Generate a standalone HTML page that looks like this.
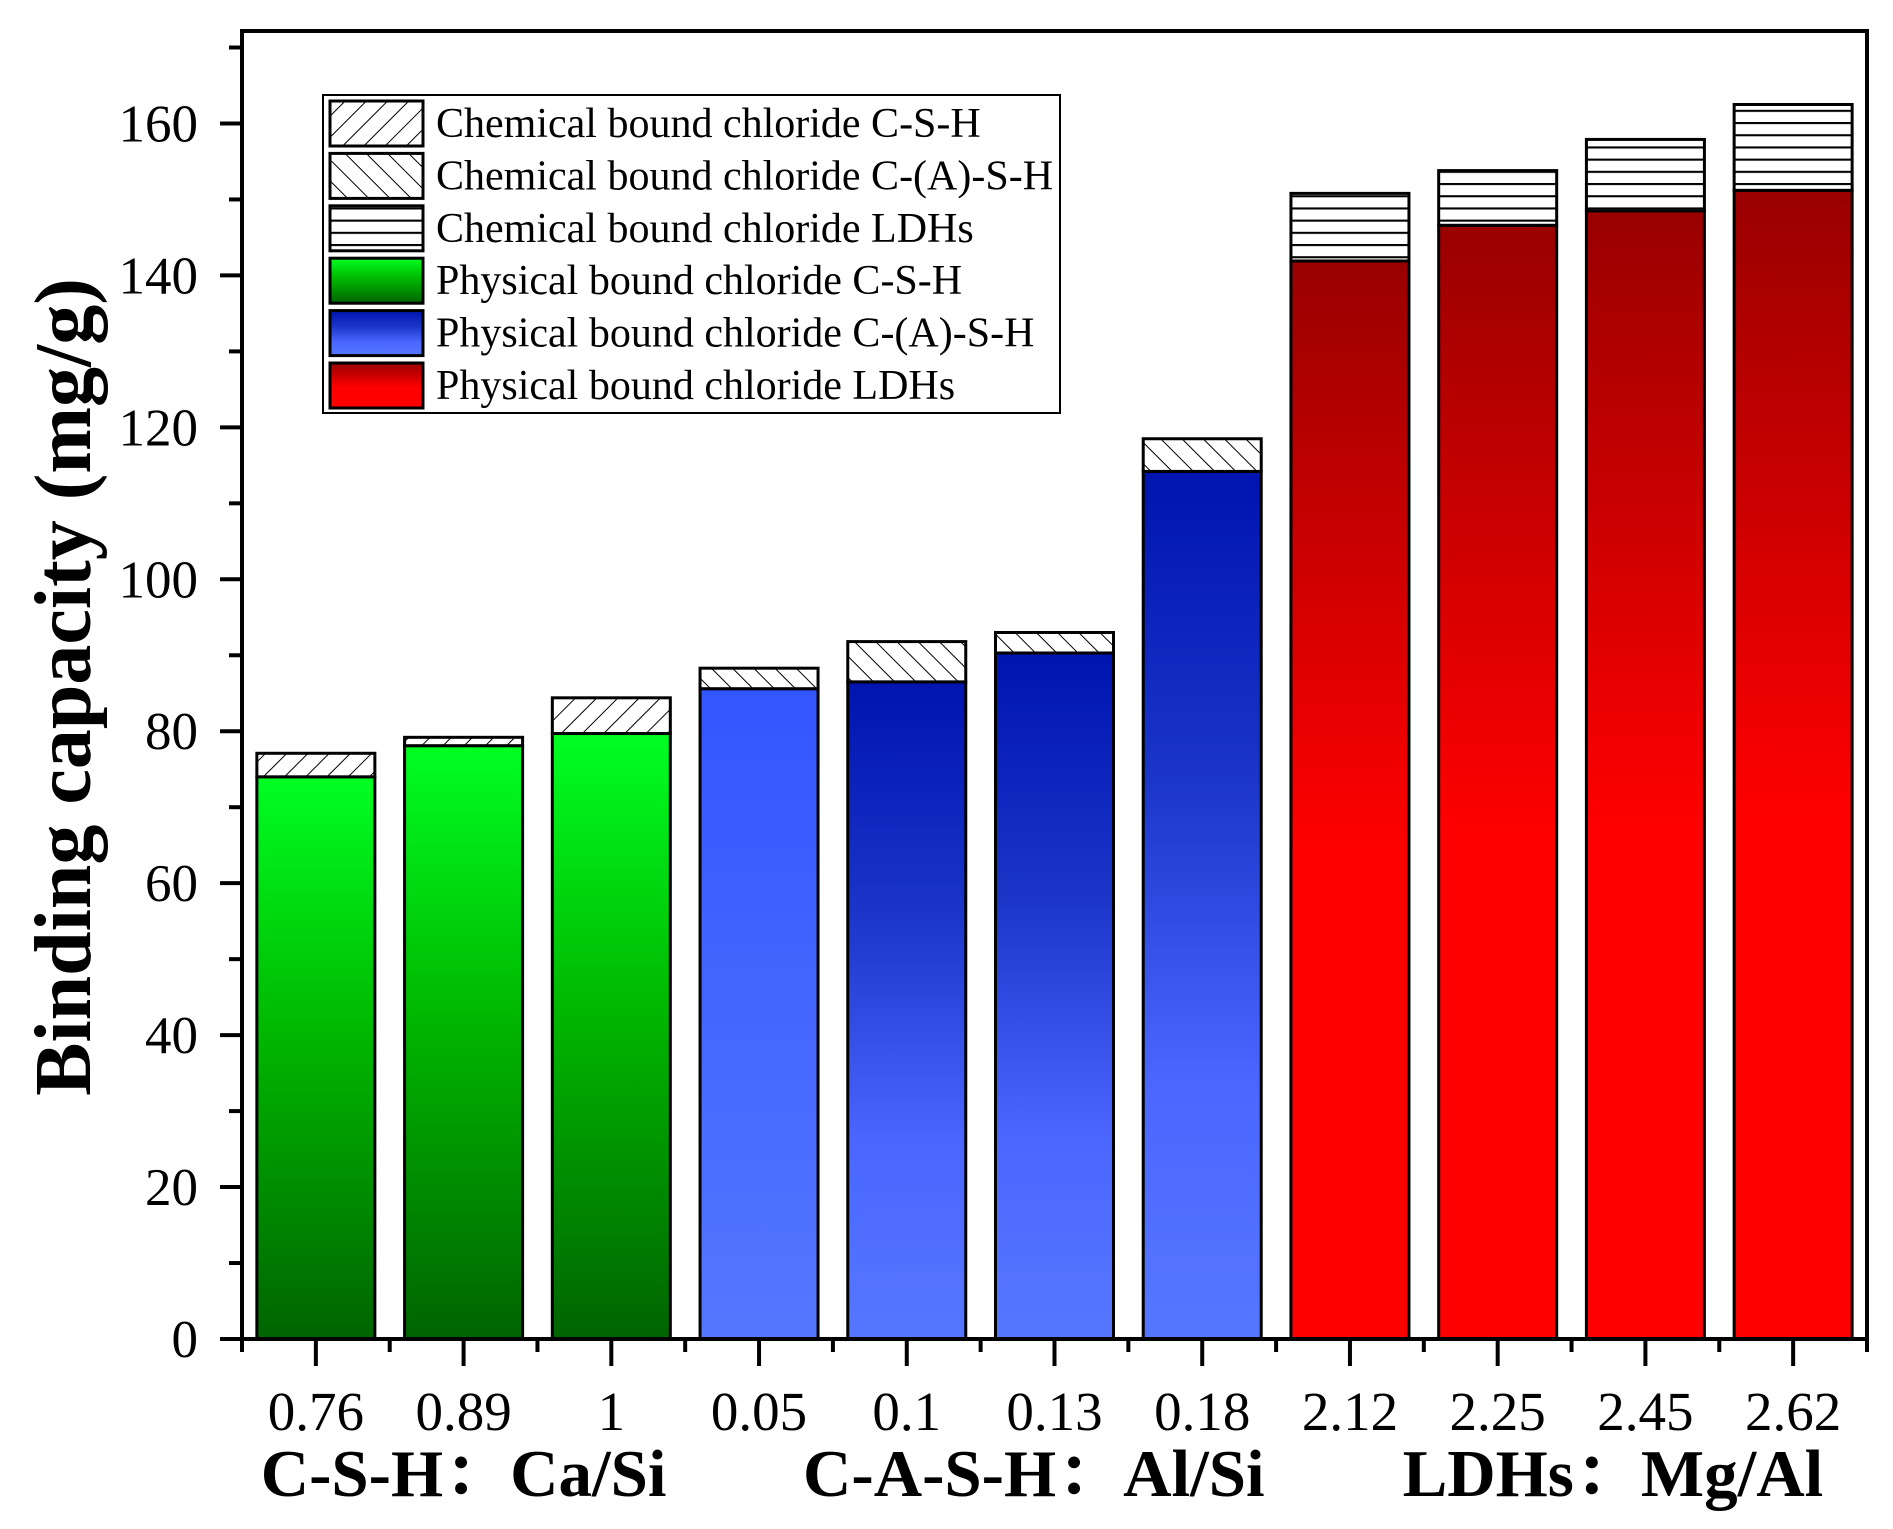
<!DOCTYPE html>
<html><head><meta charset="utf-8"><style>
html,body{margin:0;padding:0;background:#fff;}
svg{display:block;font-family:"Liberation Serif","Noto Serif CJK SC",serif;}
</style></head><body>
<svg id="chart" width="1893" height="1529" viewBox="0 0 1893 1529" xmlns="http://www.w3.org/2000/svg">
<defs>
<pattern id="hCSH" patternUnits="userSpaceOnUse" width="15" height="15" patternTransform="rotate(45)"><rect width="15" height="15" fill="#fff"/><line x1="0" y1="0" x2="0" y2="15" stroke="#000" stroke-width="2"/></pattern>
<pattern id="hCASH" patternUnits="userSpaceOnUse" width="15" height="15" patternTransform="rotate(-45)"><rect width="15" height="15" fill="#fff"/><line x1="0" y1="0" x2="0" y2="15" stroke="#000" stroke-width="2"/></pattern>
<pattern id="hLDH" patternUnits="userSpaceOnUse" width="12" height="12.2"><rect width="12" height="12.2" fill="#fff"/><line x1="0" y1="1" x2="12" y2="1" stroke="#000" stroke-width="2.2"/></pattern>
<linearGradient id="gGreen" x1="0" y1="0" x2="0" y2="1"><stop offset="0" stop-color="#00ff22"/><stop offset="0.45" stop-color="#00b800"/><stop offset="1" stop-color="#006400"/></linearGradient>
<linearGradient id="gBlueDark" x1="0" y1="0" x2="0" y2="1"><stop offset="0" stop-color="#0014b0"/><stop offset="0.35" stop-color="#1a35c8"/><stop offset="0.7" stop-color="#4a66ff"/><stop offset="1" stop-color="#5577ff"/></linearGradient>
<linearGradient id="gBlueLight" x1="0" y1="0" x2="0" y2="1"><stop offset="0" stop-color="#3355ff"/><stop offset="1" stop-color="#5577ff"/></linearGradient>
<linearGradient id="gRed" x1="0" y1="0" x2="0" y2="1"><stop offset="0" stop-color="#990000"/><stop offset="0.55" stop-color="#ff0000"/><stop offset="1" stop-color="#ff0000"/></linearGradient>
</defs>
<g id="bars"></g>
<g id="axes"></g>
<g id="legend"></g>
</svg>
<script>
const categories = ["0.76","0.89","1","0.05","0.1","0.13","0.18","2.12","2.25","2.45","2.62"];
const physical = [74.0,78.1,79.7,85.6,86.5,90.3,114.2,141.9,146.6,148.5,151.2];
const totals = [77.1,79.2,84.4,88.3,91.8,93.0,118.5,150.8,153.8,157.9,162.5];
const groups = ["CSH","CSH","CSH","CASH","CASH","CASH","CASH","LDH","LDH","LDH","LDH"];
const yTicks = [0,20,40,60,80,100,120,140,160];
const groupLabels = ["C-S-H：Ca/Si","C-A-S-H：Al/Si","LDHs：Mg/Al"];
const groupCenters = [1,4.86,8.78];

const NS="http://www.w3.org/2000/svg";
const L=242,R=1867,T=31,B=1339;
const yMax=(B-T)/7.597;
function y(v){return B-(v/yMax)*(B-T);}
function x(i){return L+(i+0.5)/categories.length*(R-L);}
const step=(R-L)/categories.length, bw=118;
function mk(tag,attrs,parent){const e=document.createElementNS(NS,tag);for(const k in attrs)e.setAttribute(k,attrs[k]);parent.appendChild(e);return e;}
const barsG=document.getElementById('bars'), axG=document.getElementById('axes'), lg=document.getElementById('legend');
const fillPhys={CSH:"url(#gGreen)",CASH:"url(#gBlueDark)",LDH:"url(#gRed)"};
const fillChem={CSH:"url(#hCSH)",CASH:"url(#hCASH)",LDH:"url(#hLDH)"};
categories.forEach((c,i)=>{
  const cx=x(i);
  let pf=fillPhys[groups[i]]; if(i===3) pf="url(#gBlueLight)";
  const p=mk('rect',{x:cx-bw/2,y:y(physical[i]),width:bw,height:B-y(physical[i]),fill:pf,stroke:"#000","stroke-width":3},barsG);
  
  
  const h=mk('rect',{x:cx-bw/2,y:y(totals[i]),width:bw,height:y(physical[i])-y(totals[i]),fill:fillChem[groups[i]],stroke:"#000","stroke-width":3},barsG);
  
  
});
const fr=mk('rect',{x:L,y:T,width:R-L,height:B-T,fill:"none",stroke:"#000","stroke-width":4},axG);


for(let v=0;v<=170;v+=10){
  const major=v%20===0;
  mk('line',{x1:L,x2:L-(major?22:13),y1:y(v),y2:y(v),stroke:"#000","stroke-width":4},axG);
}
yTicks.forEach(v=>{
  const t=mk('text',{x:198,y:y(v)+18,"text-anchor":"end","font-size":53},axG);
  t.textContent=v;
  
  
});
for(let k=0;k<=categories.length;k++){
  const xx=L+k*step;
  mk('line',{x1:xx,x2:xx,y1:B,y2:B+13,stroke:"#000","stroke-width":4},axG);
}
categories.forEach((c,i)=>{
  mk('line',{x1:x(i),x2:x(i),y1:B,y2:B+27,stroke:"#000","stroke-width":4},axG);
  const t=mk('text',{x:x(i),y:1430,"text-anchor":"middle","font-size":55},axG);
  t.textContent=c;
  
  
});
groupLabels.forEach((g,k)=>{
  const t=mk('text',{x:x(groupCenters[k]),y:1496,"text-anchor":"middle","font-size":67,"font-weight":"bold"},axG);
  t.textContent=g;
  
  
});
const yt=mk('text',{x:0,y:0,"text-anchor":"middle","font-size":80,"font-weight":"bold",transform:"translate(90,687) rotate(-90)"},axG);
yt.textContent="Binding capacity (mg/g)";


mk('rect',{x:323,y:95,width:737,height:318,fill:"#fff",stroke:"#000","stroke-width":2},lg);
const legLabels=["Chemical bound chloride C-S-H","Chemical bound chloride C-(A)-S-H","Chemical bound chloride LDHs","Physical bound chloride C-S-H","Physical bound chloride C-(A)-S-H","Physical bound chloride LDHs"];
const legFills=["url(#hCSH)","url(#hCASH)","url(#hLDH)","url(#gGreen)","url(#gBlueDark)","url(#gRed)"];
legLabels.forEach((s,k)=>{
  const yy=101+k*52.4;
  const sw=mk('rect',{x:330,y:yy,width:93,height:45,fill:legFills[k],stroke:"#000","stroke-width":3},lg);
  
  
  const t=mk('text',{x:436,y:yy+36,"font-size":42},lg);
  t.textContent=s;
  
  
});
</script>
</body></html>
